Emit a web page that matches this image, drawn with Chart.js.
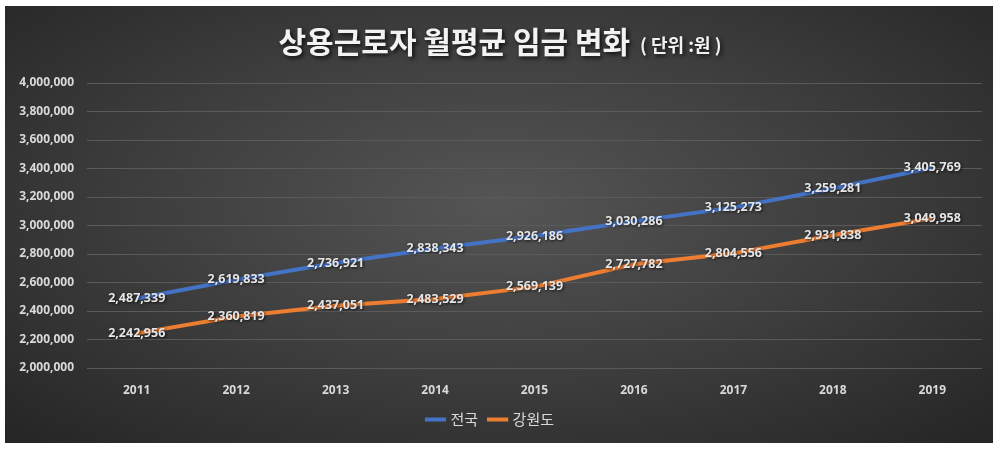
<!DOCTYPE html>
<html>
<head>
<meta charset="utf-8">
<script src="https://cdn.jsdelivr.net/npm/chart.js@4/dist/chart.umd.min.js"></script>
<style>
  html, body { margin: 0; padding: 0; background: #fff; }
  #wrap { position: relative; width: 1000px; height: 451px; }
  #bg {
    position: absolute; left: 5px; top: 6px; width: 988px; height: 437px;
    background: radial-gradient(ellipse 70% 75% at 50% 45%, #555555 0%, #3c3c3c 55%, #262626 100%);
  }
  canvas { position: absolute; left: 0; top: 0; }
</style>
</head>
<body>
<div id="wrap">
  <div id="bg"></div>
  <canvas id="chart" width="1000" height="451"></canvas>
</div>
<script>
  // chart data
  const years = ["2011", "2012", "2013", "2014", "2015", "2016", "2017", "2018", "2019"];
  const national = [2487339, 2619833, 2736921, 2838343, 2926186, 3030286, 3125273, 3259281, 3405769];
  const gangwon = [2242956, 2360819, 2437051, 2483529, 2569139, 2727782, 2804556, 2931838, 3049958];
  const seriesNames = ["전국", "강원도"];
  const titleMain = "상용근로자 월평균 임금 변화";
  const titleUnit = "( 단위 :원 )";

  const FONT = "'Noto Sans CJK KR', 'Open Sans', sans-serif";

  // title drawn with two font sizes
  const titlePlugin = {
    id: "mixedTitle",
    afterDraw(chart) {
      const ctx = chart.ctx;
      ctx.save();
      ctx.textBaseline = "middle";
      ctx.fillStyle = "#f2f2f2";
      ctx.shadowColor = "rgba(0,0,0,0.8)";
      ctx.shadowBlur = 4;
      ctx.shadowOffsetX = 2;
      ctx.shadowOffsetY = 2;
      ctx.font = "bold 30px " + FONT;
      const w1 = ctx.measureText(titleMain).width;
      ctx.font = "bold 18px " + FONT;
      const w2 = ctx.measureText(titleUnit).width;
      const gap = 10;
      let x = 500 - (w1 + gap + w2) / 2;
      ctx.textAlign = "left";
      ctx.font = "bold 30px " + FONT;
      ctx.fillText(titleMain, x, 42);
      ctx.font = "bold 18px " + FONT;
      ctx.fillText(titleUnit, x + w1 + gap, 45);
      ctx.restore();
    }
  };

  // value labels centred on each point
  const valueLabels = {
    id: "valueLabels",
    afterDatasetsDraw(chart) {
      const ctx = chart.ctx;
      ctx.save();
      ctx.font = "bold 12.5px 'Open Sans', sans-serif";
      ctx.textAlign = "center";
      ctx.textBaseline = "middle";
      ctx.fillStyle = "#e6e6e6";
      ctx.shadowColor = "rgba(0,0,0,0.8)";
      ctx.shadowBlur = 3;
      ctx.shadowOffsetX = 1;
      ctx.shadowOffsetY = 1;
      chart.data.datasets.forEach((ds, i) => {
        chart.getDatasetMeta(i).data.forEach((pt, j) => {
          ctx.fillText(ds.data[j].toLocaleString("en-US"), pt.x, pt.y);
        });
      });
      ctx.restore();
    }
  };

  new Chart(document.getElementById("chart"), {
    type: "line",
    data: {
      labels: years,
      datasets: [
        {
          label: seriesNames[0],
          data: national,
          borderColor: "#4472C4",
          backgroundColor: "#4472C4",
          borderWidth: 4,
          pointRadius: 0,
          tension: 0,
        },
        {
          label: seriesNames[1],
          data: gangwon,
          borderColor: "#ED7D31",
          backgroundColor: "#ED7D31",
          borderWidth: 4,
          pointRadius: 0,
          tension: 0,
        },
      ],
    },
    options: {
      responsive: false,
      animation: false,
      layout: { padding: { top: 83, right: 18, bottom: 14, left: 0 } },
      scales: {
        x: {
          offset: true,
          grid: { display: false, offset: true },
          border: { display: false },
          ticks: {
            color: "#d9d9d9",
            font: { family: "'Open Sans', sans-serif", size: 12, weight: "bold" },
            padding: 7,
          },
          afterFit(scale) { scale.height = 32; },
        },
        y: {
          min: 2000000,
          max: 4000000,
          grid: { color: "#5a5a5a", lineWidth: 1, drawTicks: false },
          border: { display: false },
          ticks: {
            stepSize: 200000,
            color: "#d9d9d9",
            padding: 13,
            font: { family: "'Open Sans', sans-serif", size: 12, weight: "bold" },
            callback: (v) => v.toLocaleString("en-US"),
          },
          afterFit(scale) { scale.width = 87; },
        },
      },
      plugins: {
        legend: {
          position: "bottom",
          labels: {
            usePointStyle: true,
            pointStyle: "line",
            boxWidth: 32,
            color: "#d9d9d9",
            font: { family: FONT, size: 15 },
            padding: 12,
          },
        },
        tooltip: { enabled: false },
      },
    },
    plugins: [titlePlugin, valueLabels],
  });
</script>
</body>
</html>
